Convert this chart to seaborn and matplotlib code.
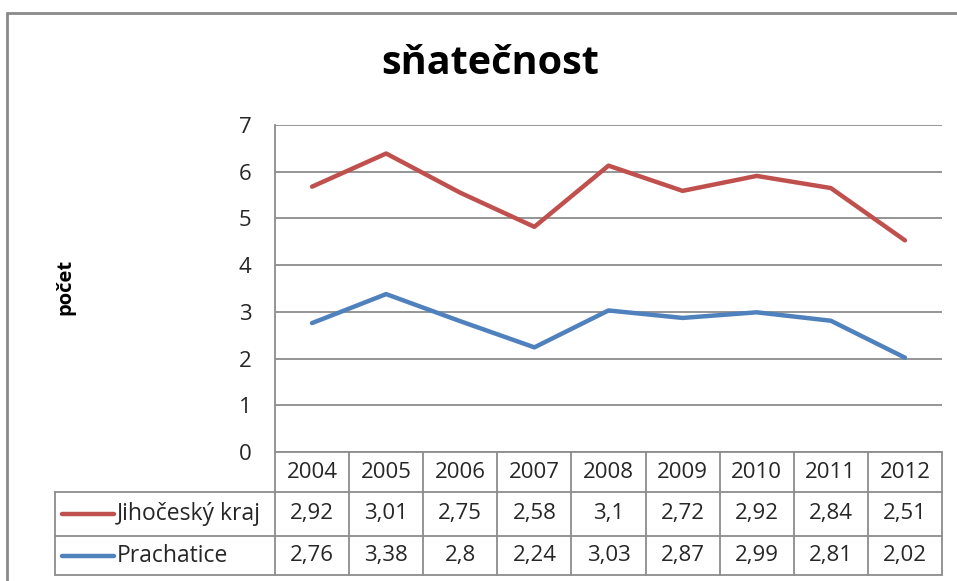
import numpy as np
import pandas as pd
import matplotlib
matplotlib.use("Agg")
import matplotlib.pyplot as plt
from matplotlib.lines import Line2D
import seaborn as sns

### Data
years = ["2004", "2005", "2006", "2007", "2008", "2009", "2010", "2011", "2012"]
series_names = ["Jihočeský kraj", "Prachatice"]
jihocesky = [2.92, 3.01, 2.75, 2.58, 3.1, 2.72, 2.92, 2.84, 2.51]
prachatice = [2.76, 3.38, 2.8, 2.24, 3.03, 2.87, 2.99, 2.81, 2.02]
y_ticks = [0, 1, 2, 3, 4, 5, 6, 7]

RED = "#C0504D"
BLUE = "#4F81BD"
GRID = "#8C8C8C"
TXT = "#262626"

sns.set_theme(style="white")
plt.rcParams["font.family"] = ["Open Sans", "DejaVu Sans"]

W, H = 957, 581
fig = plt.figure(figsize=(W / 100, H / 100), dpi=100)

def fx(px):
    return px / W

def fy(py):
    return 1 - py / H

# plot area in pixels
L, R, T, B = 275, 942, 125, 452
ax = fig.add_axes([fx(L), fy(B), fx(R) - fx(L), fy(T) - fy(B)])

# stacked line chart (Excel "stacked line")
stacked = np.array(prachatice) + np.array(jihocesky)
df = pd.DataFrame({
    "rok": years * 2,
    "hodnota": list(prachatice) + list(stacked),
    "serie": [series_names[1]] * len(years) + [series_names[0]] * len(years),
})
sns.lineplot(data=df, x="rok", y="hodnota", hue="serie",
             palette={series_names[0]: RED, series_names[1]: BLUE},
             linewidth=3.2, legend=False, ax=ax)
for ln in ax.lines:
    ln.set_solid_capstyle("round")

ax.set_xlim(-0.5, len(years) - 0.5)
ax.set_ylim(0, 7)
ax.set_yticks(y_ticks)
ax.set_yticklabels([str(t) for t in y_ticks], fontsize=16, color=TXT)
ax.tick_params(axis="y", length=0, pad=17)
ax.set_xticks([])
ax.set_xlabel("")
ax.set_ylabel("")
ax.grid(axis="y", color=GRID, linewidth=1.3)
ax.set_axisbelow(True)
for side in ["top", "right", "bottom"]:
    ax.spines[side].set_visible(False)
ax.spines["left"].set_color(GRID)
ax.spines["left"].set_linewidth(1.3)

# titles
fig.text(fx(490), fy(63), "sňatečnost", ha="center", va="center",
         fontsize=28.5, fontweight="bold", color="black")
fig.text(fx(65), fy(287), "počet", ha="center", va="center", rotation=90,
         fontsize=14.5, fontweight="bold", color="black")

### Data table below the plot
col_w = (R - L) / len(years)
row_y = [452, 492, 536, 575]
tab_left = 55

def hline(y, x0, x1):
    fig.add_artist(Line2D([fx(x0), fx(x1)], [fy(y), fy(y)], color=GRID, linewidth=1.3))

def vline(x, y0, y1):
    fig.add_artist(Line2D([fx(x), fx(x)], [fy(y0), fy(y1)], color=GRID, linewidth=1.3))

hline(row_y[0], L, R)
for y in row_y[1:]:
    hline(y, tab_left, R)
vline(tab_left, row_y[1], row_y[3])
for k in range(len(years) + 1):
    vline(L + k * col_w, row_y[0], row_y[3])

for k, yr in enumerate(years):
    fig.text(fx(L + (k + 0.5) * col_w), fy((row_y[0] + row_y[1]) / 2), yr,
             ha="center", va="center", fontsize=16, color=TXT)

def fmt(v):
    return f"{v:g}".replace(".", ",")

rows = [(series_names[0], jihocesky, RED), (series_names[1], prachatice, BLUE)]
for r, (name, vals, col) in enumerate(rows):
    yc = (row_y[r + 1] + row_y[r + 2]) / 2
    fig.add_artist(Line2D([fx(62), fx(114)], [fy(yc), fy(yc)], color=col,
                          linewidth=3.2, solid_capstyle="round"))
    fig.text(fx(117), fy(yc), name, ha="left", va="center", fontsize=16.5, color=TXT)
    for k, v in enumerate(vals):
        fig.text(fx(L + (k + 0.5) * col_w), fy(yc), fmt(v),
                 ha="center", va="center", fontsize=16, color=TXT)

# chart frame (left and top edges visible)
fig.add_artist(Line2D([fx(7), fx(7)], [fy(13), 0], color="#8A8A8A", linewidth=2))
fig.add_artist(Line2D([fx(7), 1], [fy(13), fy(13)], color="#8A8A8A", linewidth=2))

fig.savefig("out.png", dpi=100, facecolor="white")
